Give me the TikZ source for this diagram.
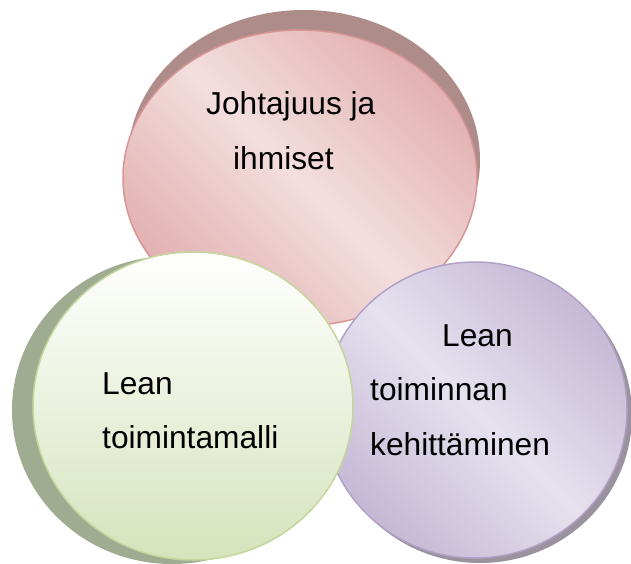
\documentclass[tikz,border=0pt]{standalone}
\usepackage{fontspec}
\setmainfont{Liberation Sans}
\definecolor{pinkdark}{HTML}{DFA6A6}
\definecolor{pinklight}{HTML}{F3DEDE}
\definecolor{pinkborder}{HTML}{D99594}
\definecolor{pinkshadow}{HTML}{AE8C8A}
\definecolor{greenbottom}{HTML}{D6E3BC}
\definecolor{greenborder}{HTML}{C3D69B}
\definecolor{greenshadow}{HTML}{A0AC92}
\definecolor{purpledark}{HTML}{BDAFD0}
\definecolor{purplelight}{HTML}{E6E1EE}
\definecolor{purpleborder}{HTML}{B2A1C7}
\definecolor{purpleshadow}{HTML}{9A929E}
\pgfdeclarehorizontalshading{pinkdiag}{100bp}{color(0bp)=(pinkdark); color(19bp)=(pinkdark); color(50bp)=(pinklight); color(81bp)=(pinkdark); color(100bp)=(pinkdark)}
\pgfdeclarehorizontalshading{purplediag}{100bp}{color(0bp)=(purpledark); color(19bp)=(purpledark); color(50bp)=(purplelight); color(81bp)=(purpledark); color(100bp)=(purpledark)}
\begin{document}
\begin{tikzpicture}[x=1pt,y=1pt]
\tikzset{
  lbl/.style={anchor=base west, inner sep=0pt, font=\fontsize{31.7}{38}\selectfont},
  rim/.style={line width=1.5pt}
}
\useasboundingbox (0,0) rectangle (631,-564);
% top circle
\fill[pinkshadow] (304,-160) ellipse [x radius=176, y radius=150];
\shade[shading=pinkdiag, shading angle=45, draw=pinkborder, rim]
  (300,-178) ellipse [x radius=177, y radius=148];
% right circle
\fill[purpleshadow] (480,-415) ellipse [x radius=152, y radius=148];
\shade[shading=purplediag, shading angle=45, draw=purpleborder, rim]
  (475,-410) ellipse [x radius=152, y radius=148];
% left circle
\fill[greenshadow] (172,-410) ellipse [x radius=160, y radius=154];
\shade[top color=white, bottom color=greenbottom, draw=greenborder, rim]
  (193,-406) ellipse [x radius=160, y radius=154];
% texts
\node[lbl] (t1) at (206,-115) {Johtajuus ja};
\node[lbl] (t2) at (233,-170) {ihmiset};
\node[lbl] (g1) at (102,-394) {Lean};
\node[lbl] (g2) at (102,-448) {toimintamalli};
\node[lbl] (p1) at (442,-346) {Lean};
\node[lbl] (p2) at (370,-400) {toiminnan};
\node[lbl] (p3) at (370,-455) {kehittäminen};
\end{tikzpicture}
\end{document}
